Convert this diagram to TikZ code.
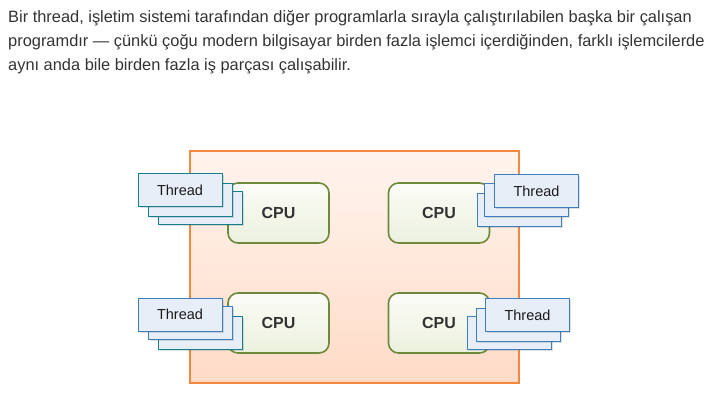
\documentclass[tikz,border=0pt]{standalone}
\usepackage{fontspec}
\setmainfont{Liberation Sans}
\usetikzlibrary{shadows}
\definecolor{txt}{HTML}{333333}
\definecolor{orangeb}{HTML}{F5883F}
\definecolor{orangetop}{HTML}{FFF4EE}
\definecolor{orangebot}{HTML}{FFDBC7}
\definecolor{cpub}{HTML}{6D8A3C}
\definecolor{cputop}{HTML}{FBFCF7}
\definecolor{cpubot}{HTML}{ECF1DE}
\definecolor{thfill}{HTML}{E8EEF8}
\definecolor{thblue}{HTML}{3D7EBF}
\definecolor{thteal}{HTML}{13808F}
\tikzset{
  para/.style={anchor=base west, inner sep=0pt, font=\fontsize{16.4}{20}\selectfont, text=txt},
  cpubox/.style={draw=cpub, line width=1.6pt, rounded corners=10pt, top color=cputop, bottom color=cpubot,
     minimum width=101pt, minimum height=60pt, inner sep=0pt, font=\bfseries\fontsize{16}{18}\selectfont, text=txt},
  thbox/.style={draw=#1, line width=0.9pt, fill=thfill, minimum width=84pt, minimum height=33pt, inner sep=0pt,
     font=\fontsize{14.5}{16}\selectfont, text=black!90,
     drop shadow={shadow xshift=1.5pt, shadow yshift=-1.5pt, opacity=0.12, fill=black}},
}
\begin{document}
\begin{tikzpicture}[x=1pt,y=-1pt]
\useasboundingbox (0,0) rectangle (717,408);
\node[para] (l1) at (8,22) {Bir thread, işletim sistemi tarafından diğer programlarla sırayla çalıştırılabilen başka bir çalışan};
\node[para] (l2) at (8,46) {programdır — çünkü çoğu modern bilgisayar birden fazla işlemci içerdiğinden, farklı işlemcilerde};
\node[para] (l3) at (8,70) {aynı anda bile birden fazla iş parçası çalışabilir.};
% machine box
\path[draw=orangeb, line width=1.6pt, top color=orangetop, bottom color=orangebot] (190,151) rectangle (519,383);
% CPUs
\node[cpubox] (cpu1) at (278.5,213) {CPU};
\node[cpubox] (cpu2) at (439,213) {CPU};
\node[cpubox] (cpu3) at (278.5,323) {CPU};
\node[cpubox] (cpu4) at (439,323) {CPU};
% thread stacks
\node[thbox=thteal] (t1c) at (200.5,208) {};
\node[thbox=thteal] (t1b) at (190,199.5) {};
\node[thbox=thteal] (t1a) at (180,190) {Thread};
\node[thbox=thblue] (t2c) at (519,209.5) {};
\node[thbox=thblue] (t2b) at (526,199.5) {};
\node[thbox=thblue] (t2a) at (536.5,191) {Thread};
\node[thbox=thteal] (t3c) at (200.5,332.5) {};
\node[thbox=thblue] (t3b) at (190,323) {};
\node[thbox=thblue] (t3a) at (180,314.5) {Thread};
\node[thbox=thblue] (t4c) at (509.5,333) {};
\node[thbox=thblue] (t4b) at (518,324.5) {};
\node[thbox=thblue] (t4a) at (527.5,315) {Thread};
\end{tikzpicture}
\end{document}
